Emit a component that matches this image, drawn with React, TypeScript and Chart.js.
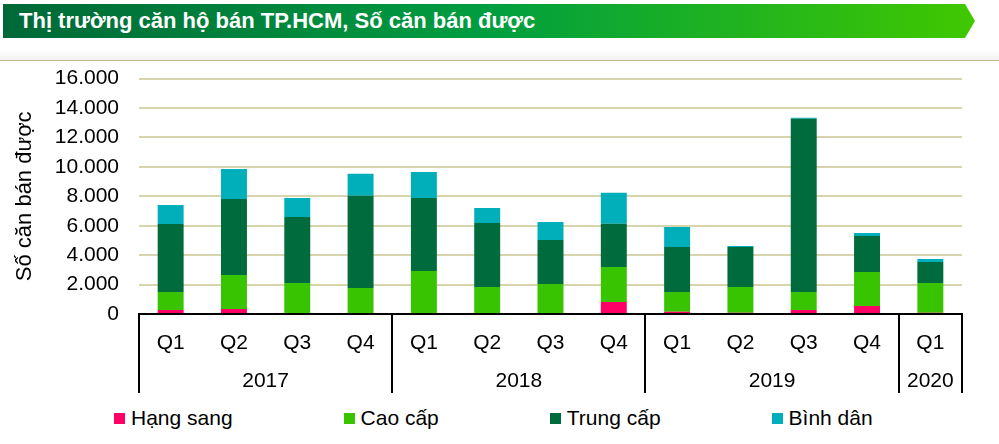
import React, { useEffect, useRef } from "react";
import { Chart, registerables } from "chart.js";

Chart.register(...registerables);

const chartTitle = "Thị trường căn hộ bán TP.HCM, Số căn bán được";
const yAxisTitle = "Số căn bán được";

const quarters = ["Q1", "Q2", "Q3", "Q4", "Q1", "Q2", "Q3", "Q4", "Q1", "Q2", "Q3", "Q4", "Q1"];
const years = ["2017", "2018", "2019", "2020"];
const yearSpans = [4, 4, 4, 1];

const hangSang = [270, 340, 0, 0, 0, 0, 0, 820, 160, 90, 270, 540, 90];
const caoCap = [1230, 2310, 2110, 1770, 2930, 1840, 2040, 2380, 1340, 1750, 1230, 2310, 2020];
const trungCap = [4620, 5170, 4490, 6260, 4960, 4350, 2990, 2930, 3060, 2720, 11770, 2450, 1430];
const binhDan = [1290, 2040, 1290, 1500, 1770, 1020, 1220, 2110, 1360, 70, 70, 200, 200];

const seriesNames = ["Hạng sang", "Cao cấp", "Trung cấp", "Bình dân"];
const seriesValues = [hangSang, caoCap, trungCap, binhDan];
const seriesColors = ["#FF0066", "#38C400", "#006B3C", "#00AFBA"];

const yMin = 0;
const yMax = 16000;
const yStep = 2000;

const FONT = "'Liberation Sans', Arial, Helvetica, sans-serif";

const fmt = (v: number) => String(v).replace(/\B(?=(\d{3})+(?!\d))/g, ".");

const groupAxisPlugin = {
  id: "groupAxis",
  afterDraw(chart: any) {
    const xs = chart.scales.x;
    const ys = chart.scales.y;
    const ctx = chart.ctx;
    const n = quarters.length;
    const w = (xs.right - xs.left) / n;
    const base = ys.getPixelForValue(0);
    const bottom = base + 79;
    const bounds = [0];
    let acc = 0;
    yearSpans.forEach((s) => {
      acc += s;
      bounds.push(acc);
    });
    ctx.save();
    ctx.strokeStyle = "#000";
    ctx.lineWidth = 2;
    ctx.beginPath();
    ctx.moveTo(xs.left - 1, base);
    ctx.lineTo(xs.right + 1, base);
    ctx.stroke();
    bounds.forEach((b) => {
      const px = Math.round(xs.left + b * w);
      ctx.beginPath();
      ctx.moveTo(px, base);
      ctx.lineTo(px, bottom);
      ctx.stroke();
    });
    ctx.fillStyle = "#000";
    ctx.font = `21px ${FONT}`;
    ctx.textAlign = "center";
    ctx.textBaseline = "middle";
    years.forEach((yr, i) => {
      const cx = xs.left + ((bounds[i] + bounds[i + 1]) / 2) * w;
      ctx.fillText(yr, cx, base + 67);
    });
    ctx.restore();
  },
};

export default function App() {
  const canvasRef = useRef<HTMLCanvasElement | null>(null);

  useEffect(() => {
    if (!canvasRef.current) return;
    const chart = new Chart(canvasRef.current, {
      type: "bar",
      data: {
        labels: quarters,
        datasets: seriesNames.map((name, i) => ({
          label: name,
          data: seriesValues[i],
          backgroundColor: seriesColors[i],
          borderWidth: 0,
          barPercentage: 0.41,
          categoryPercentage: 1,
        })),
      },
      options: {
        animation: false,
        responsive: true,
        maintainAspectRatio: false,
        layout: { padding: { top: 0, right: 37, left: 0, bottom: 0 } },
        plugins: {
          legend: { display: false },
          tooltip: { enabled: false },
        },
        scales: {
          x: {
            stacked: true,
            grid: { display: false, drawTicks: false },
            border: { display: false },
            ticks: {
              color: "#000",
              font: { family: FONT, size: 21 },
              padding: 17,
              autoSkip: false,
              maxRotation: 0,
            },
            afterFit: (s: any) => {
              s.height = 86;
            },
          },
          y: {
            stacked: true,
            min: yMin,
            max: yMax,
            grid: { color: "#D8D4AE", lineWidth: 2, drawTicks: false },
            border: { display: false },
            ticks: {
              stepSize: yStep,
              autoSkip: false,
              color: "#000",
              font: { family: FONT, size: 21 },
              padding: 20,
              callback: (v: any) => fmt(Number(v)),
            },
            title: {
              display: true,
              text: yAxisTitle,
              color: "#000",
              font: { family: FONT, size: 22 },
              padding: { top: 12, bottom: 0 },
            },
            afterFit: (s: any) => {
              s.width = 139;
            },
          },
        },
      },
      plugins: [groupAxisPlugin],
    });
    return () => chart.destroy();
  }, []);

  return (
    <div
      style={{
        position: "fixed",
        left: 0,
        top: 0,
        width: 999,
        height: 444,
        background: "#fff",
        overflow: "hidden",
        fontFamily: FONT,
      }}
    >
      <div
        style={{
          position: "absolute",
          left: 3,
          top: 4,
          width: 972,
          height: 34,
          background: "linear-gradient(90deg, #006837 0%, #009E40 50%, #40C800 100%)",
          clipPath: "polygon(0 0, 962px 0, 972px 50%, 962px 100%, 0 100%)",
          color: "#fff",
          fontWeight: "bold",
          fontSize: 22,
          lineHeight: "34px",
          paddingLeft: 16,
          boxSizing: "border-box",
          whiteSpace: "nowrap",
        }}
      >
        {chartTitle}
      </div>
      <div
        style={{
          position: "absolute",
          left: 0,
          top: 50,
          width: 999,
          height: 10,
          background: "linear-gradient(180deg, rgba(240,240,240,0) 0%, #F2F2F2 100%)",
          borderBottom: "1px solid #C9BC8C",
        }}
      />
      <div style={{ position: "absolute", left: 0, top: 46, width: 999, height: 354 }}>
        <canvas ref={canvasRef} />
      </div>
      <div
        style={{
          position: "absolute",
          left: 114,
          top: 405,
          height: 26,
          display: "flex",
          alignItems: "center",
          gap: 111,
          fontSize: 21,
          color: "#000",
          whiteSpace: "nowrap",
        }}
      >
        {seriesNames.map((name, i) => (
          <div key={name} style={{ display: "flex", alignItems: "center" }}>
            <span
              style={{
                display: "inline-block",
                width: 11,
                height: 11,
                background: seriesColors[i],
                marginRight: 6,
              }}
            />
            <span>{name}</span>
          </div>
        ))}
      </div>
    </div>
  );
}
